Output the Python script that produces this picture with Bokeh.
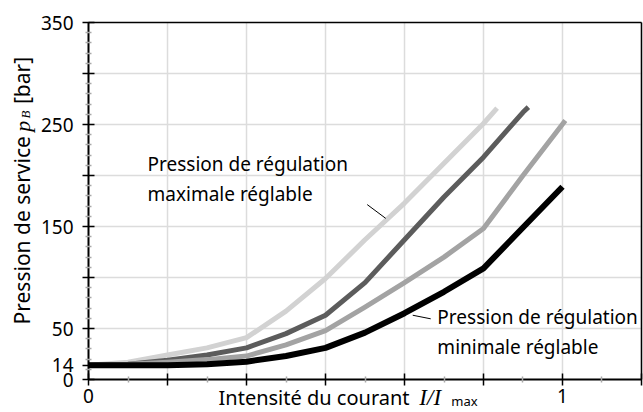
import math
from bokeh.plotting import figure
from bokeh.models import Range1d, FixedTicker, CustomJSTickFormatter, Label
from bokeh.embed import file_html
from bokeh.resources import INLINE

# Relative current I/Imax (steps of 1/12)
current = [0, 1/12, 2/12, 3/12, 4/12, 5/12, 6/12, 7/12, 8/12, 9/12, 10/12, 11/12, 1.0]

# Pressure curves p_B [bar], from maximum-adjustable to minimum-adjustable setting
p_max_x = [0, 1/12, 2/12, 3/12, 4/12, 5/12, 6/12, 7/12, 8/12, 9/12, 10/12, 0.862]
p_max_y = [14, 17, 24, 31, 41, 67, 99, 137, 173, 212, 251, 266]

p_hi_x = [0, 1/12, 2/12, 3/12, 4/12, 5/12, 6/12, 7/12, 8/12, 9/12, 10/12, 11/12, 0.928]
p_hi_y = [14, 15, 19, 24, 31, 45, 63, 95, 137, 179, 218, 262, 267]

p_lo_x = [0, 1/12, 2/12, 3/12, 4/12, 5/12, 6/12, 7/12, 8/12, 9/12, 10/12, 11/12, 1.006]
p_lo_y = [14, 15, 17, 19.5, 23, 34, 48, 71, 95, 120, 148, 200, 254]

p_min_x = current
p_min_y = [14, 14, 14, 15, 17.5, 23, 31, 46, 65, 86, 109, 149, 189]

series_colors = ["#d2d2d2", "#5c5c5c", "#a3a3a3", "#000000"]
series_widths = [5, 5, 5, 6]

X_MAX = 7 / 6
Y_MAX = 350
x_major = [i / 6 for i in range(8)]
x_minor = [(2 * i + 1) / 12 for i in range(7)]
y_major = [0, 14, 50, 100, 150, 200, 250, 300, 350]
y_minor = [v for v in range(10, 350, 10) if v % 50 != 0]
y_grid = [50, 100, 150, 200, 250, 300]
y_labels = {0: "0", 14: "14", 50: "50", 150: "150", 250: "250", 350: "350"}

FONT = "Noto Sans"
SERIF = "Liberation Serif"
FS = "19px"

# The frame fills the whole canvas; the axes sit at fixed data positions so
# that the titles around them can be drawn as ordinary labels.
p = figure(width=643, height=412, output_backend="svg", toolbar_location=None,
           x_range=Range1d(-0.1857, 1.1709), y_range=Range1d(-32.35, 371.6),
           min_border=0, min_border_left=0, min_border_right=0,
           min_border_top=0, min_border_bottom=0)
p.background_fill_color = "white"
p.border_fill_color = "white"
p.outline_line_color = None
p.grid.visible = False

# grid lines, bounded to the plotting area
p.segment(x0=x_major[1:], y0=[0] * 7, x1=x_major[1:], y1=[Y_MAX] * 7,
          line_color="#dcdcdc", line_width=1.5)
p.segment(x0=[0] * len(y_grid), y0=y_grid, x1=[X_MAX] * len(y_grid), y1=y_grid,
          line_color="#dcdcdc", line_width=1.5)
# top and right border
p.segment(x0=[0, X_MAX], y0=[Y_MAX, 0], x1=[X_MAX, X_MAX], y1=[Y_MAX, Y_MAX],
          line_color="black", line_width=1.5)

# axes
p.xaxis.fixed_location = 0
p.yaxis.fixed_location = 0
p.xaxis.bounds = (0, X_MAX)
p.yaxis.bounds = (0, Y_MAX)
p.xaxis.ticker = FixedTicker(ticks=x_major, minor_ticks=x_minor)
p.xaxis.formatter = CustomJSTickFormatter(code="""
    if (Math.abs(tick) < 1e-9) return '0';
    if (Math.abs(tick - 1) < 1e-9) return '1';
    return '';
""")
p.yaxis.ticker = FixedTicker(ticks=y_major, minor_ticks=y_minor)
p.yaxis.formatter = CustomJSTickFormatter(
    args=dict(lab={str(k): v for k, v in y_labels.items()}),
    code="const k = String(Math.round(tick)); return (k in lab) ? lab[k] : '';")

for ax in (p.xaxis[0], p.yaxis[0]):
    ax.axis_line_color = "black"
    ax.axis_line_width = 2
    ax.major_tick_line_color = "black"
    ax.major_tick_line_width = 1.5
    ax.major_tick_in = 6
    ax.major_tick_out = 6
    ax.minor_tick_line_color = "#a8a8a8"
    ax.minor_tick_line_width = 1.5
    ax.minor_tick_in = 3
    ax.minor_tick_out = 3
    ax.major_label_text_font = FONT
    ax.major_label_text_font_size = FS
    ax.major_label_text_color = "black"
p.xaxis.major_label_standoff = 3
p.yaxis.major_label_standoff = 9

# curves
for xs, ys, c, w in zip([p_max_x, p_hi_x, p_lo_x, p_min_x],
                        [p_max_y, p_hi_y, p_lo_y, p_min_y],
                        series_colors, series_widths):
    p.line(xs, ys, line_color=c, line_width=w, line_join="round")


def add_label(x, y, text, font=FONT, size=FS, style="normal", angle=0,
              baseline="middle", align="left"):
    p.add_layout(Label(x=x, y=y, text=text, text_font=font,
                       text_font_size=size, text_font_style=style, angle=angle,
                       text_color="black", text_baseline=baseline,
                       text_align=align))


# curve annotations with leader lines
add_label(0.1245, 211.5, "Pression de régulation")
add_label(0.1245, 182, "maximale réglable")
add_label(0.736, 61.5, "Pression de régulation")
add_label(0.736, 32, "minimale réglable")
p.segment(x0=[0.588, 0.684], y0=[171.5, 63], x1=[0.627, 0.722], y1=[158, 59.5],
          line_color="black", line_width=1)

# x axis title on the tick-label row
add_label(0.2743, -18.0, "Intensité du courant ", size="20px",
          baseline="alphabetic")
add_label(0.698, -18.0, "I/I", font=SERIF, size="23px", style="italic",
          baseline="alphabetic")
add_label(0.7655, -21.5, "max", size="13px", baseline="alphabetic")

# rotated y axis title
add_label(-0.14, 54, "Pression de service ", size="21px", angle=math.pi / 2,
          baseline="alphabetic")
add_label(-0.14, 243, "p", font=SERIF, size="22px", style="italic",
          angle=math.pi / 2, baseline="alphabetic")
add_label(-0.132, 256, "B", font=SERIF, size="13px", style="italic",
          angle=math.pi / 2, baseline="alphabetic")
add_label(-0.14, 270, " [bar]", size="21px", angle=math.pi / 2,
          baseline="alphabetic")

open("out.html", "w").write(file_html(p, INLINE))
